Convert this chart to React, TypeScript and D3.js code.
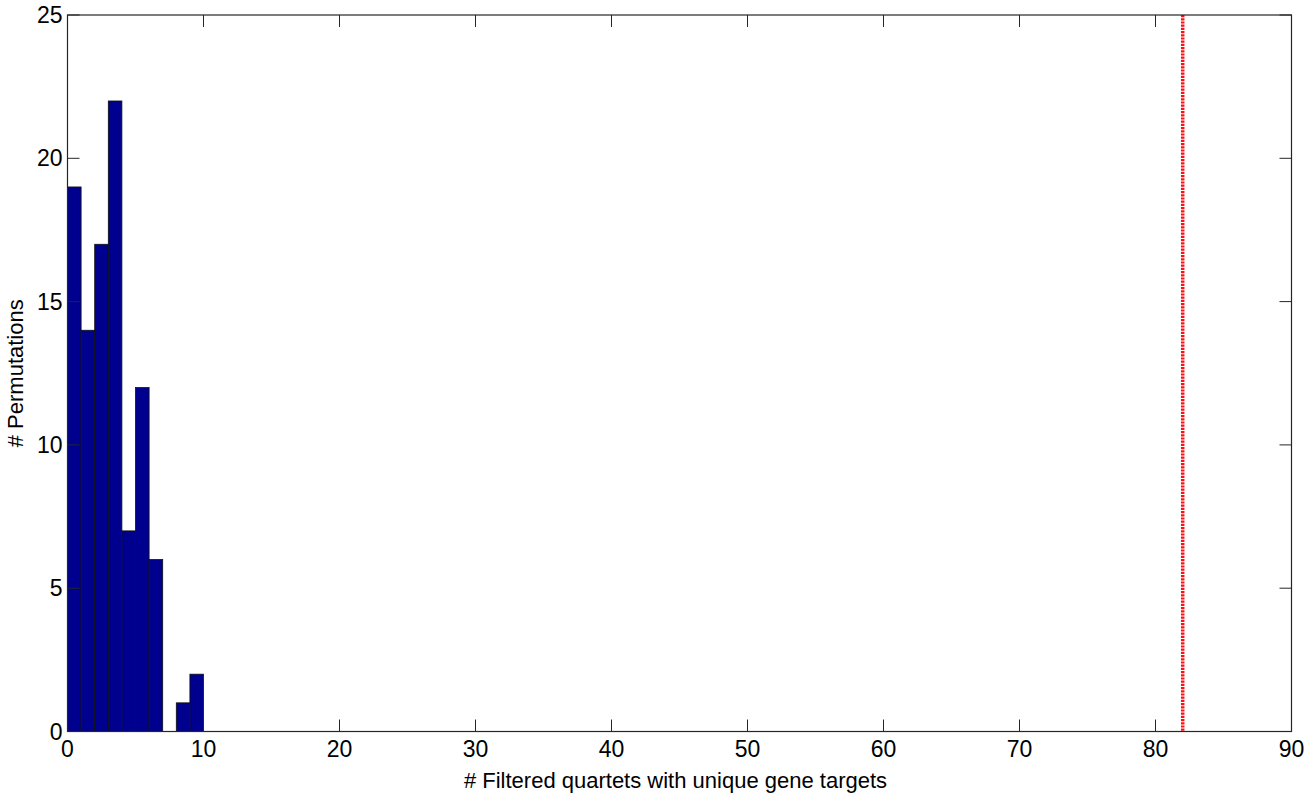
import * as d3 from 'd3'

// histogram of permutation counts (bin = [i, i+1))
const binStarts = [0, 1, 2, 3, 4, 5, 6, 7, 8, 9]
const binCounts = [19, 14, 17, 22, 7, 12, 6, 0, 1, 2]
const observedValue = 82

const xTicks = [0, 10, 20, 30, 40, 50, 60, 70, 80, 90]
const yTicks = [0, 5, 10, 15, 20, 25]

const xLabel = '# Filtered quartets with unique gene targets'
const yLabel = '# Permutations'

const width = 1310
const height = 800
const margin = { top: 15, right: 18.5, bottom: 68.5, left: 67.5 }
const font = '"Liberation Sans", Arial, Helvetica, sans-serif'
const axisColor = '#262626'

export default function App() {
  const innerWidth = width - margin.left - margin.right
  const innerHeight = height - margin.top - margin.bottom

  const x = d3.scaleLinear().domain([0, 90]).range([0, innerWidth])
  const y = d3.scaleLinear().domain([0, 25]).range([innerHeight, 0])
  const tickLen = 12

  return (
    <svg
      width={width}
      height={height}
      style={{ position: 'absolute', left: 0, top: 0, background: '#fff' }}
      fontFamily={font}
    >
      <g transform={`translate(${margin.left},${margin.top})`}>
        {/* bars */}
        {binStarts.map((b, i) =>
          binCounts[i] > 0 ? (
            <rect
              key={b}
              x={x(b)}
              y={y(binCounts[i])}
              width={x(b + 1) - x(b)}
              height={innerHeight - y(binCounts[i])}
              fill="#00008f"
              stroke="#111"
              strokeWidth={0.8}
            />
          ) : null
        )}

        {/* observed value line */}
        <line
          x1={x(observedValue)}
          x2={x(observedValue)}
          y1={0}
          y2={innerHeight}
          stroke="#ff1010"
          strokeWidth={3.5}
          strokeDasharray="2.2 1"
        />

        {/* box */}
        <rect x={0} y={0} width={innerWidth} height={innerHeight} fill="none" stroke={axisColor} strokeWidth={1.2} />

        {/* x ticks */}
        {xTicks.map(t => (
          <g key={t}>
            <line x1={x(t)} x2={x(t)} y1={innerHeight} y2={innerHeight - tickLen} stroke={axisColor} strokeWidth={1} />
            <line x1={x(t)} x2={x(t)} y1={0} y2={tickLen} stroke={axisColor} strokeWidth={1} />
            <text x={x(t)} y={innerHeight + 25} textAnchor="middle" fontSize={23} fill="#000">
              {t}
            </text>
          </g>
        ))}

        {/* y ticks */}
        {yTicks.map(t => (
          <g key={t}>
            <line x1={0} x2={tickLen} y1={y(t)} y2={y(t)} stroke={axisColor} strokeWidth={1} />
            <line x1={innerWidth} x2={innerWidth - tickLen} y1={y(t)} y2={y(t)} stroke={axisColor} strokeWidth={1} />
            <text x={-5} y={y(t) + 8} textAnchor="end" fontSize={23} fill="#000">
              {t}
            </text>
          </g>
        ))}

        {/* axis labels */}
        <text x={innerWidth / 2 - 4} y={innerHeight + 56} textAnchor="middle" fontSize={22} fill="#000">
          {xLabel}
        </text>
        <text
          transform={`translate(${23 - margin.left},${innerHeight / 2}) rotate(-90)`}
          textAnchor="middle"
          fontSize={22}
          fill="#000"
        >
          {yLabel}
        </text>
      </g>
    </svg>
  )
}
